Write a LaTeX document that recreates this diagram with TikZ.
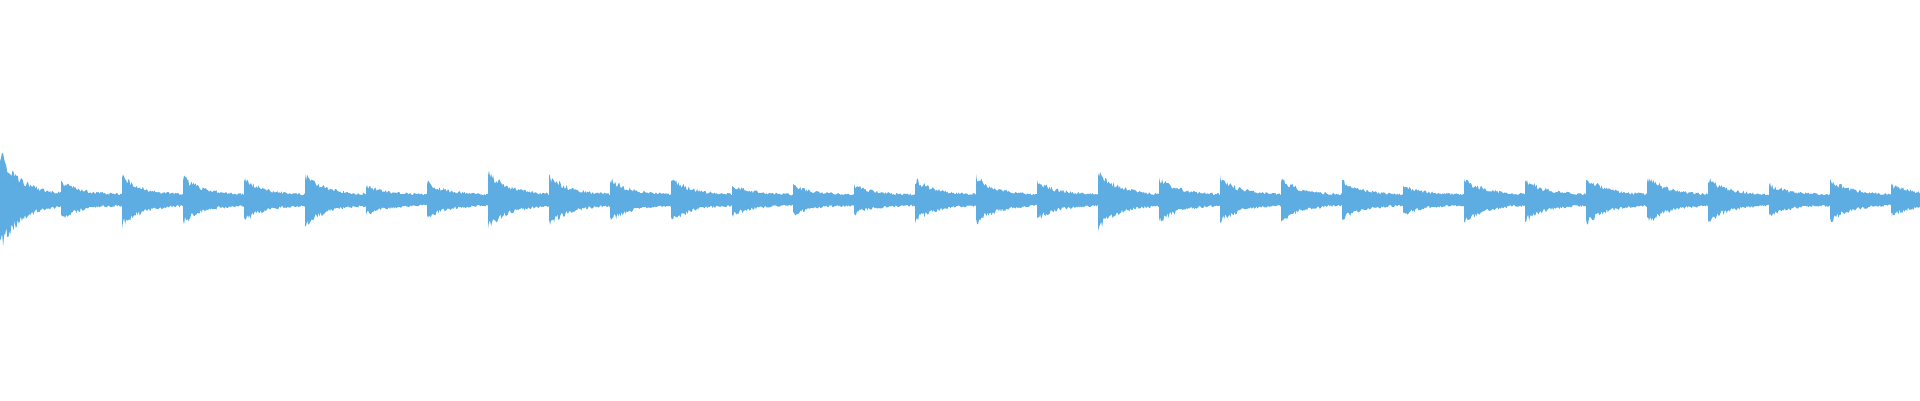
\documentclass[tikz,border=0pt]{standalone}
\definecolor{wave}{HTML}{5DADE2}
\begin{document}
\begin{tikzpicture}[x=1pt,y=-1pt,wavefill/.style={fill=wave}]
\pgfmathsetseed{7}
\useasboundingbox (0,0) rectangle (1920,400);
\foreach \i/\A in {0/45,1/18,2/24,3/22,4/20,5/24,6/14,7/17,8/27,9/24,10/20,11/21,12/15,13/14,14/14,15/20,16/22,17/18,18/27,19/21,20/21,21/20,22/18,23/14,24/21,25/20,26/22,27/22,28/21,29/15,30/20,31/15}{
  \pgfmathsetmacro{\xo}{61*\i}
  \pgfmathsetmacro{\xe}{\i==31 ? 1920-\xo : 61.5}
  \fill[wavefill] plot[domain=0:\xe,samples=60] ({\xo+\x},{200-(5+(\A-5)*exp(-\x/20))*(0.8+0.4*rnd)})
     -- plot[domain=\xe:0,samples=60] ({\xo+\x},{200+(5+(\A-5)*exp(-\x/20))*(0.8+0.4*rnd)}) -- cycle;
}
\end{tikzpicture}
\end{document}
